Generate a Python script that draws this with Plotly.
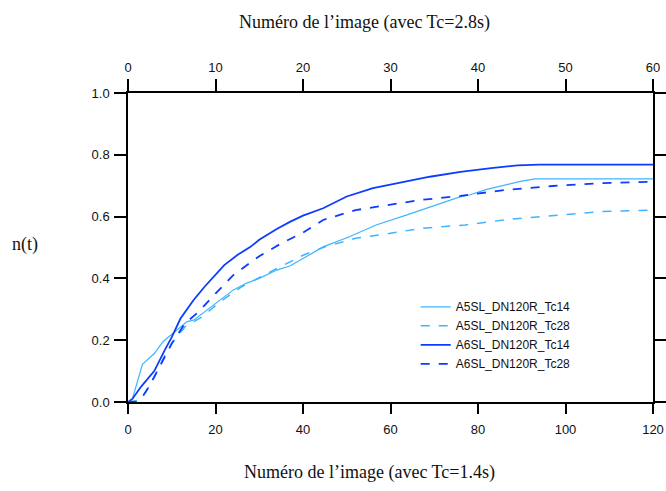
import plotly.graph_objects as go

# frame numbers (Tc=1.4s) and n(t) values
a5_tc14_x = [0, 1, 3.3, 6, 8, 11, 13.5, 15, 18, 21, 24, 27, 30, 34, 37, 40.7, 44.6, 50.6, 56.7, 63.6, 70.4, 75.7, 78, 82, 89.4, 93, 120]
a5_tc14_y = [0, 0.01, 0.122, 0.157, 0.195, 0.232, 0.26, 0.265, 0.297, 0.33, 0.362, 0.384, 0.40, 0.427, 0.44, 0.47, 0.502, 0.535, 0.573, 0.605, 0.638, 0.663, 0.67, 0.688, 0.713, 0.722, 0.722]

a5_tc28_x = [0, 2, 4, 6, 8, 10, 13, 17, 21, 26, 31, 36, 40, 44.6, 52, 60, 67, 77, 87, 99, 108, 120]
a5_tc28_y = [0, 0.005, 0.03, 0.08, 0.14, 0.19, 0.243, 0.276, 0.324, 0.373, 0.41, 0.445, 0.475, 0.50, 0.53, 0.546, 0.562, 0.573, 0.591, 0.605, 0.616, 0.621]

a6_tc14_x = [0, 1, 3, 6, 8.4, 10, 12, 15, 17.5, 20, 22, 25, 28, 30, 34, 37, 40, 44.6, 50, 56, 62, 69, 76, 78, 83, 89, 94, 120]
a6_tc14_y = [0, 0.01, 0.05, 0.10, 0.168, 0.21, 0.27, 0.33, 0.373, 0.411, 0.443, 0.476, 0.502, 0.525, 0.56, 0.583, 0.603, 0.627, 0.665, 0.692, 0.708, 0.729, 0.745, 0.749, 0.757, 0.766, 0.768, 0.768]

a6_tc28_x = [0, 2, 3, 5, 7.6, 10, 13, 16, 20, 24, 30, 35, 40, 44.6, 52, 60, 67, 76, 86, 97, 108, 120]
a6_tc28_y = [0, 0.0, 0.01, 0.055, 0.124, 0.189, 0.254, 0.29, 0.351, 0.41, 0.472, 0.513, 0.548, 0.589, 0.621, 0.638, 0.654, 0.667, 0.686, 0.699, 0.708, 0.713]

series_names = ['A5SL_DN120R_Tc14', 'A5SL_DN120R_Tc28', 'A6SL_DN120R_Tc14', 'A6SL_DN120R_Tc28']

LIGHT = '#3fb4ff'
DARK = '#0d3cff'
SERIF = 'Liberation Serif, Times New Roman, serif'
SANS = 'Liberation Sans, Arial, sans-serif'

fig = go.Figure()

fig.add_trace(go.Scatter(x=a5_tc14_x, y=a5_tc14_y, mode='lines', name=series_names[0],
                         line=dict(color=LIGHT, width=1.2)))
fig.add_trace(go.Scatter(x=a5_tc28_x, y=a5_tc28_y, mode='lines', name=series_names[1],
                         line=dict(color=LIGHT, width=1.5, dash='dash')))
fig.add_trace(go.Scatter(x=a6_tc14_x, y=a6_tc14_y, mode='lines', name=series_names[2],
                         line=dict(color=DARK, width=1.8)))
fig.add_trace(go.Scatter(x=a6_tc28_x, y=a6_tc28_y, mode='lines', name=series_names[3],
                         line=dict(color=DARK, width=1.8, dash='dash')))

# invisible trace so the top axis (Tc=2.8s) is drawn
fig.add_trace(go.Scatter(x=[0, 60], y=[0, 0], xaxis='x2', mode='lines',
                         line=dict(width=0), showlegend=False, hoverinfo='skip'))

axis_common = dict(showline=True, linecolor='black', linewidth=1.5, ticks='outside',
                   tickcolor='black', tickwidth=1.5, showgrid=False, zeroline=False,
                   automargin=False,
                   tickfont=dict(family=SANS, size=13, color='#111'))

fig.update_layout(
    width=666, height=491,
    margin=dict(l=128, r=13, t=93, b=89),
    plot_bgcolor='white', paper_bgcolor='white',
    xaxis=dict(range=[0, 120], dtick=20, ticklen=10, ticklabelstandoff=5, **axis_common),
    xaxis2=dict(range=[0, 60], dtick=10, overlaying='x', side='top', anchor='y',
                ticklen=12, ticklabelstandoff=2, **axis_common),
    yaxis=dict(range=[0, 1], dtick=0.2, tickformat='.1f', ticklen=12, ticklabelstandoff=2,
               mirror='ticks', **axis_common),
    legend=dict(x=0.548, y=0.355, xanchor='left', yanchor='top', bgcolor='rgba(0,0,0,0)',
                font=dict(family=SANS, size=12, color='#111'), tracegroupgap=0),
    annotations=[
        dict(text='Numéro de l’image (avec Tc=2.8s)', xref='paper', yref='paper',
             x=0.5, y=1, xshift=-26, yshift=71, yanchor='middle', showarrow=False,
             font=dict(family=SERIF, size=18, color='#111')),
        dict(text='Numéro de l’image (avec Tc=1.4s)', xref='paper', yref='paper',
             x=0.5, y=0, xshift=-21, yshift=-70, yanchor='middle', showarrow=False,
             font=dict(family=SERIF, size=18, color='#111')),
        dict(text='n(t)', xref='paper', yref='paper', x=0, y=0.5, xshift=-103, yshift=3,
             xanchor='center', yanchor='middle', showarrow=False,
             font=dict(family=SERIF, size=18, color='#111')),
    ],
)

# drop the default page margin so the figure fills the window exactly
fig.write_html('out.html', config={'displayModeBar': False},
               post_script="document.body.style.margin='0';")
